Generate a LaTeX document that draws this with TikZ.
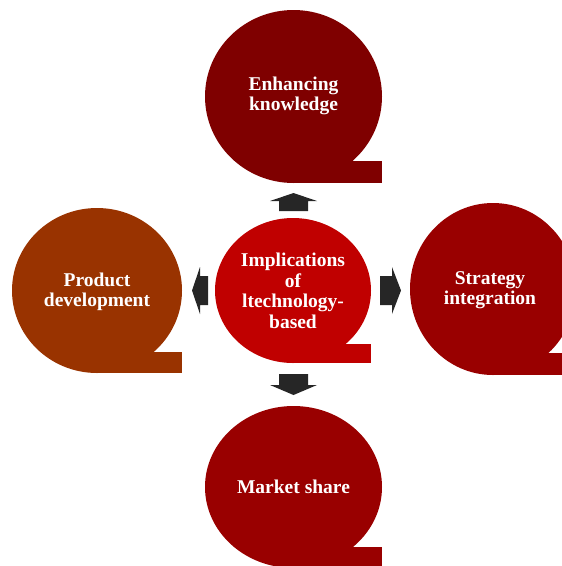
\documentclass[tikz,border=0pt]{standalone}
\usepackage{fontspec}
\setmainfont{Liberation Serif}
\definecolor{cTop}{HTML}{7F0000}
\definecolor{cMid}{HTML}{C00000}
\definecolor{cLeft}{HTML}{993300}
\definecolor{cRight}{HTML}{990000}
\definecolor{cBot}{HTML}{990000}
\definecolor{arrowc}{HTML}{262626}
\newcommand\mybubble[5]{%
  \fill[#1] (#2,#3) ellipse [x radius=#4, y radius=#5];
  \fill[#1] (#2,{#3+0.74*#5}) rectangle ({#2+#4},{#3+#5});
}
\begin{document}
\begin{tikzpicture}[x=1pt,y=-1pt,
  lbl/.style={text=white, font=\fontsize{19.5}{20.5}\selectfont\bfseries, align=center, inner sep=0pt},
  blockarrow/.style={fill=arrowc}]
\useasboundingbox (0,0) rectangle (562,566);
\clip (0,0) rectangle (562,566);
% bubbles
\mybubble{cTop}{293.5}{96.5}{88.5}{86.5}
\mybubble{cMid}{293}{290.5}{78}{72.5}
\mybubble{cLeft}{97}{290.5}{85}{82.5}
\mybubble{cRight}{493}{289}{83}{86}
\mybubble{cBot}{293.5}{487}{88.5}{81}
% labels
\node[lbl] (top) at (293.5,96) {Enhancing\\knowledge};
\node[lbl] (mid) at (293,291) {Implications\\of\\ltechnology-\\based};
\node[lbl] (left) at (97,292) {Product\\development};
\node[lbl] (right) at (490,290) {Strategy\\integration};
\node[lbl] (bot) at (293.5,487) {Market share};
% block arrows
\fill[blockarrow] (279,211) -- (279,201) -- (270,201) -- (293.5,193) -- (317,201) -- (308,201) -- (308,211) -- cycle;
\fill[blockarrow] (279,374) -- (279,385) -- (270,385) -- (293.5,395) -- (317,385) -- (308,385) -- (308,374) -- cycle;
\fill[blockarrow] (208,276) -- (200,276) -- (200,267) -- (192,290.5) -- (200,314) -- (200,305) -- (208,305) -- cycle;
\fill[blockarrow] (380,276) -- (392,276) -- (392,267) -- (401,290.5) -- (392,314) -- (392,305) -- (380,305) -- cycle;
\end{tikzpicture}
\end{document}
